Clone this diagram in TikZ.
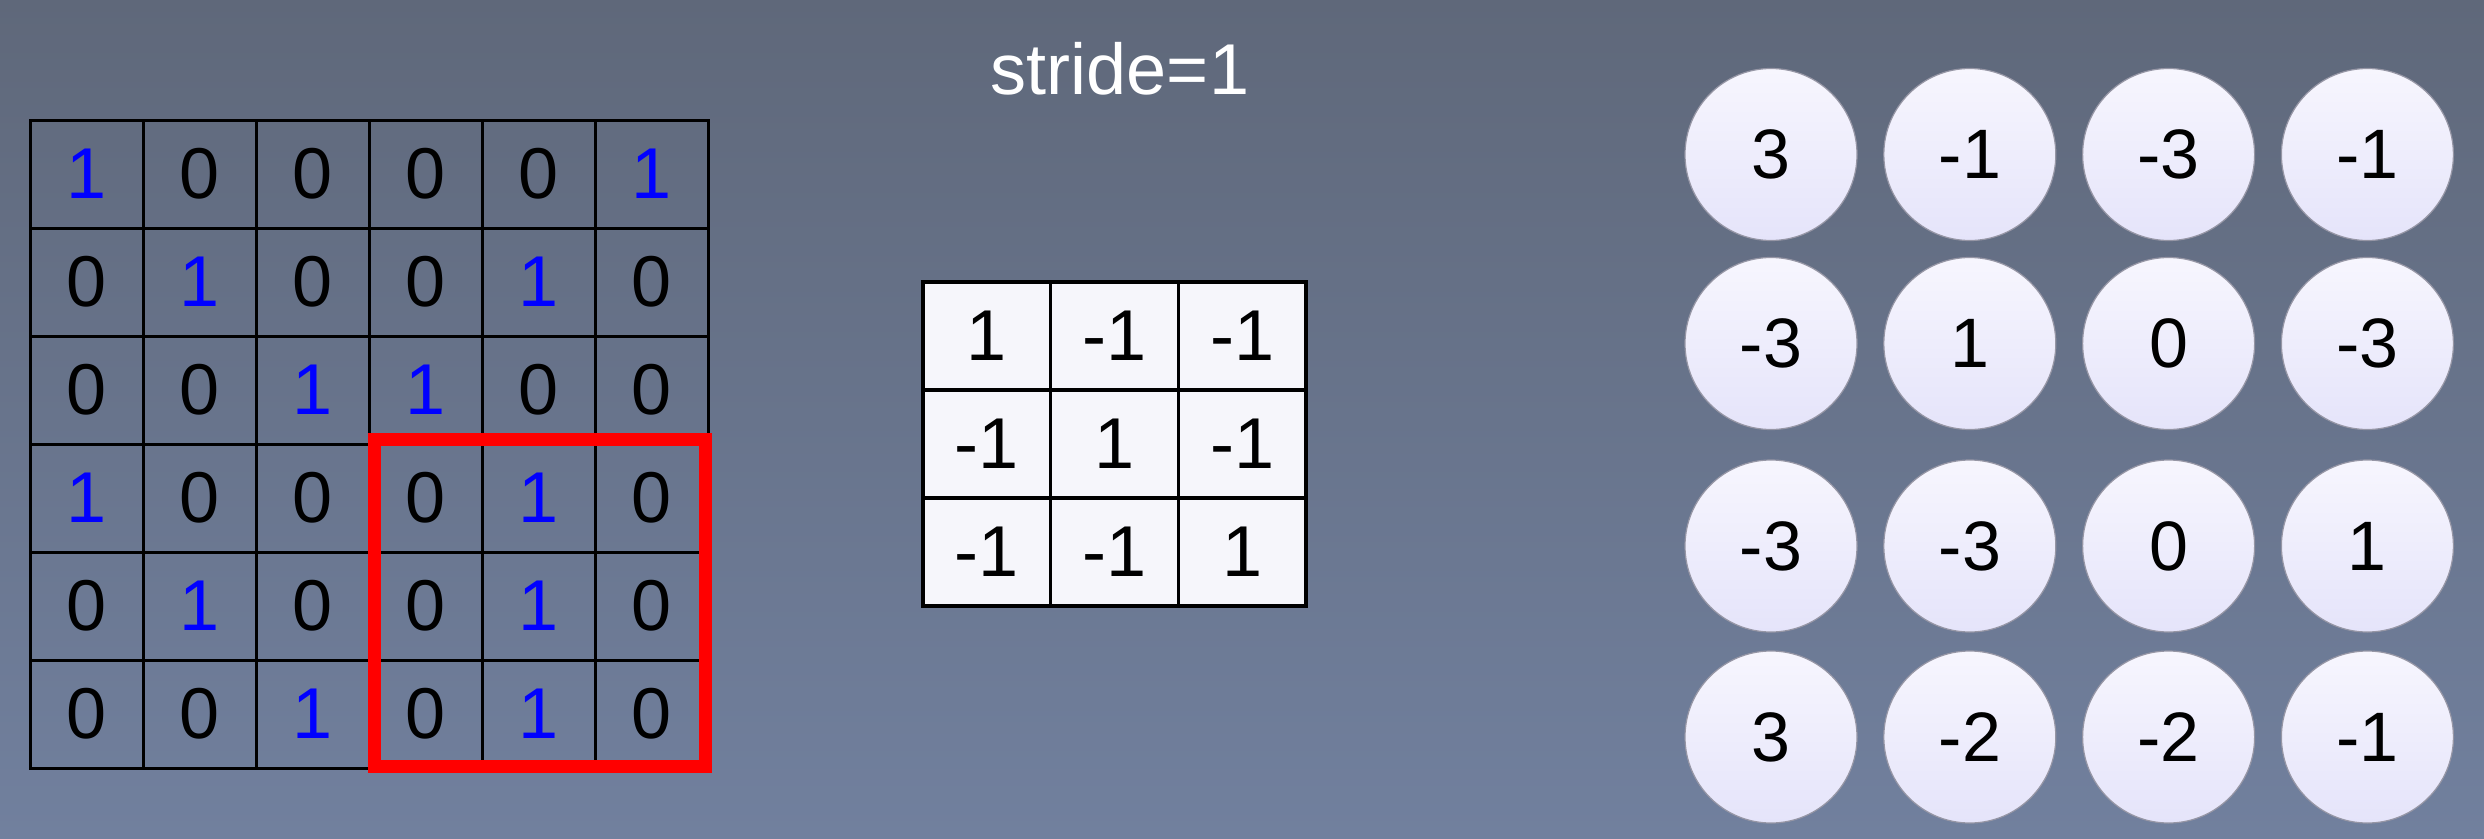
\documentclass[tikz,border=0pt]{standalone}
\usepackage{fontspec}
\setmainfont{Liberation Sans}
\definecolor{bgtop}{RGB}{95,104,122}
\definecolor{bgbot}{RGB}{113,128,158}
\definecolor{kfill}{RGB}{246,246,251}
\definecolor{ctop}{RGB}{247,246,254}
\definecolor{cbot}{RGB}{229,228,250}
\definecolor{cedge}{RGB}{150,150,165}
\definecolor{oneblue}{RGB}{0,0,255}
\newcommand\digfont{\fontsize{72}{72}\selectfont}
\newcommand\cdigfont{\fontsize{70}{70}\selectfont}
\tikzset{
  gcell/.style={draw=black, line width=3pt, minimum width=113pt, minimum height=108pt, inner sep=0pt, font=\digfont},
  kcell/.style={draw=black, fill=kfill, line width=3.5pt, minimum width=127.67pt, minimum height=108pt, inner sep=0pt, font=\digfont, text=black},
  circ/.style={circle, minimum size=172pt, inner sep=0pt, top color=ctop, bottom color=cbot, draw=cedge, line width=1.2pt, font=\cdigfont, text=black},
  window/.style={draw=red, line width=13pt, inner sep=0pt},
}
\begin{document}
\begin{tikzpicture}[x=1pt,y=-1pt]
\useasboundingbox (0,0) rectangle (2484,838);
\shade[top color=bgtop,bottom color=bgbot] (0,0) rectangle (2484,838);
% input grid
\foreach \row [count=\r] in {{1,0,0,0,0,1},{0,1,0,0,1,0},{0,0,1,1,0,0},{1,0,0,0,1,0},{0,1,0,0,1,0},{0,0,1,0,1,0}}{
  \foreach \v [count=\c] in \row {
    \ifnum\v=1 \def\col{oneblue}\else\def\col{black}\fi
    \node[gcell, text=\col] (g\r-\c) at ({30+113*(\c-0.5)},{120+108*(\r-0.5)}) {\v};
  }
}
% red window
\node[window, minimum width=330.5pt, minimum height=326.5pt] (win) at (539.75,602.75) {};
% title
\node[text=white, font=\digfont, anchor=base, inner sep=0pt] (title) at (1120,94) {stride=1};
% kernel
\foreach \row [count=\r] in {{1,-1,-1},{-1,1,-1},{-1,-1,1}}{
  \foreach \v [count=\c] in \row {
    \node[kcell] (k\r-\c) at ({923+127.67*(\c-0.5)},{282+108*(\r-0.5)}) {\v};
  }
}
% output circles
\foreach \row [count=\r] in {{3,-1,-3,-1},{-3,1,0,-3},{-3,-3,0,1},{3,-2,-2,-1}}{
  \pgfmathsetmacro\cy{{154.5,343.5,546,737}[\r-1]}
  \foreach \v [count=\c] in \row {
    \node[circ] (o\r-\c) at ({1771+198.8*(\c-1)},\cy) {\v};
  }
}
\end{tikzpicture}
\end{document}
